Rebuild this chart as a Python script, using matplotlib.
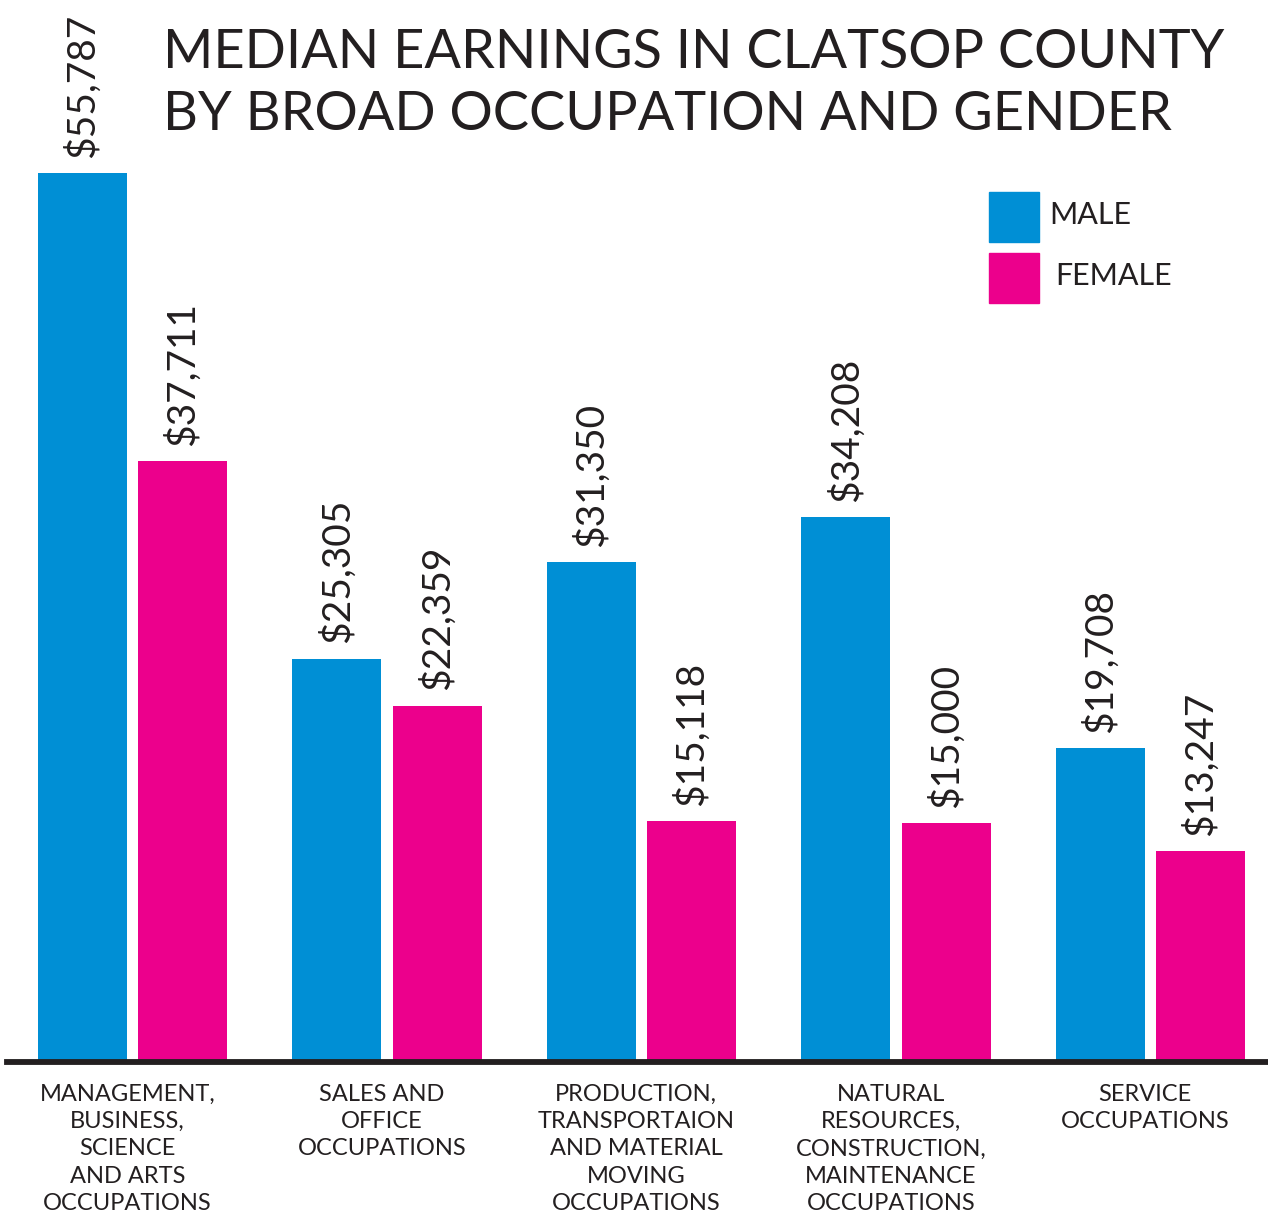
import matplotlib
matplotlib.use("Agg")
import matplotlib.pyplot as plt
import numpy as np

categories = [
    "MANAGEMENT,\nBUSINESS,\nSCIENCE\nAND ARTS\nOCCUPATIONS",
    "SALES AND\nOFFICE\nOCCUPATIONS",
    "PRODUCTION,\nTRANSPORTAION\nAND MATERIAL\nMOVING\nOCCUPATIONS",
    "NATURAL\nRESOURCES,\nCONSTRUCTION,\nMAINTENANCE\nOCCUPATIONS",
    "SERVICE\nOCCUPATIONS",
]
male = [55787, 25305, 31350, 34208, 19708]
female = [37711, 22359, 15118, 15000, 13247]

blue = "#008fd5"
pink = "#ec008c"
ink = "#231f20"
font = ["Lato", "DejaVu Sans"]

fig = plt.figure(figsize=(12.68, 12.21), dpi=100)
ax = fig.add_axes([7 / 1268, 159 / 1221, 1261 / 1268, 1062 / 1221])
ax.set_xlim(-0.493, 4.462)
ax.set_ylim(0, 66641)
ax.axis("off")

x = np.arange(len(categories))
w = 0.35
off = 0.197
b1 = ax.bar(x - off, male, w, color=blue)
b2 = ax.bar(x + off, female, w, color=pink)

for bars, vals in ((b1, male), (b2, female)):
    for b, v in zip(bars, vals):
        ax.annotate(f"${v:,}", (b.get_x() + b.get_width() / 2, v),
                    xytext=(0, 11), textcoords="offset points",
                    rotation=90, ha="center", va="bottom",
                    fontsize=28, color=ink, family=font)

ax.axhline(0, color=ink, lw=4.2, clip_on=False, xmin=0, xmax=1)

for xi, c in zip(x, categories):
    ax.annotate(c, (xi - 0.02, 0), xytext=(0, -16), textcoords="offset points",
                ha="center", va="top", fontsize=17, color=ink, family=font,
                linespacing=1.36)

fig.text(163 / 1268, 1 - 28 / 1221,
         "MEDIAN EARNINGS IN CLATSOP COUNTY\nBY BROAD OCCUPATION AND GENDER",
         ha="left", va="top", fontsize=39, color=ink, family=font,
         linespacing=1.33)

# legend
for y0, col, lab, lx in ((192, blue, "MALE", 1049), (253, pink, "FEMALE", 1055)):
    fig.patches.append(plt.Rectangle((989 / 1268, 1 - (y0 + 50) / 1221),
                                     50 / 1268, 50 / 1221,
                                     transform=fig.transFigure, color=col))
    fig.text(lx / 1268, 1 - (y0 + 23) / 1221, lab, ha="left", va="center",
             fontsize=22, color=ink, family=font)

fig.savefig("out.png", dpi=100)
